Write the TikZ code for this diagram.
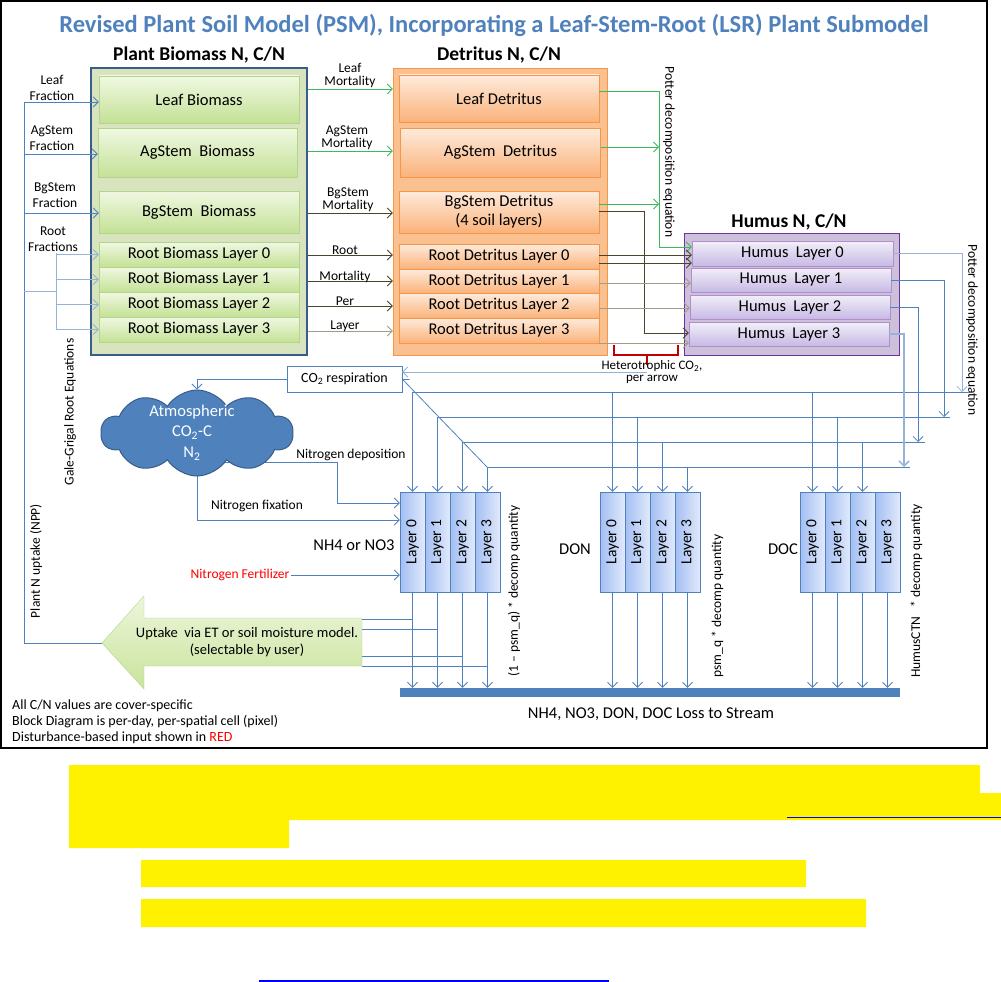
\documentclass[tikz,border=0pt]{standalone}
\usepackage{fontspec}
\setmainfont{Carlito}
\usetikzlibrary{arrows.meta,shapes.symbols,backgrounds}

\definecolor{psmblue}{HTML}{4F81BD}
\definecolor{psmlight}{HTML}{95B3D7}
\definecolor{psmnavy}{HTML}{385D8A}
\definecolor{plantfill}{HTML}{D7E4BD}
\definecolor{planttop}{HTML}{F0F8E2}
\definecolor{plantbot}{HTML}{C4E196}
\definecolor{plantedge}{HTML}{B3D58A}
\definecolor{detfill}{HTML}{FAC090}
\definecolor{dettop}{HTML}{FEEBDC}
\definecolor{detbot}{HTML}{FAB27A}
\definecolor{detedge}{HTML}{F79646}
\definecolor{humfill}{HTML}{CCC0DA}
\definecolor{humtop}{HTML}{F2EFF9}
\definecolor{humbot}{HTML}{C7B9E4}
\definecolor{humedge}{HTML}{7030A0}
\definecolor{mortgreen}{HTML}{3DB85F}
\definecolor{mortdark}{HTML}{4A452A}
\definecolor{mortgray}{HTML}{A09C88}
\definecolor{bracered}{HTML}{C00000}
\definecolor{laydark}{HTML}{A3BEF2}
\definecolor{laylight}{HTML}{E1E9FB}
\definecolor{arrowtop}{HTML}{EDF6DC}
\definecolor{arrowbot}{HTML}{C9E39B}

\begin{document}
\begin{tikzpicture}[x=1pt,y=-1pt,
    >={Straight Barb[length=5pt,width=10pt]},
    every node/.style={inner sep=1pt},
    small/.style={font=\fontsize{13.5}{16}\selectfont},
    notes/.style={font=\fontsize{14}{15}\selectfont,anchor=west},
    boxtext/.style={font=\fontsize{16.5}{19}\selectfont},
    heading/.style={font=\fontsize{19.5}{22}\selectfont\bfseries},
    plantbox/.style={boxtext,draw=plantedge,top color=planttop,bottom color=plantbot,minimum width=200pt},
    detbox/.style={boxtext,draw=detedge,top color=dettop,bottom color=detbot,minimum width=200pt},
    humbox/.style={boxtext,draw=humedge!55,top color=humtop,bottom color=humbot,minimum width=200pt,minimum height=24pt},
    laybox/.style={draw=psmblue,left color=laydark,right color=laylight,minimum width=25pt,minimum height=100pt,inner sep=0pt,font=\fontsize{15.5}{17}\selectfont},
    flow/.style={psmblue,line width=0.8pt},
    mort/.style={line width=0.8pt,->}]
  \useasboundingbox (0,0) rectangle (1001,982);
  \draw[line width=1.6pt] (1,1) rectangle (987,748);
  \node[font=\fontsize{24.5}{26}\selectfont\bfseries,text=psmblue] (ttl) at (494,25)
    {Revised Plant Soil Model (PSM), Incorporating a Leaf-Stem-Root (LSR) Plant Submodel};

  % plant biomass
  \node[heading] (pbt) at (199,55) {Plant Biomass N, C/N};
  \node[draw=psmnavy,line width=2.5pt,fill=plantfill,minimum width=216pt,minimum height=287pt] (pb) at (199,211.5) {};
  \node[plantbox,minimum height=47pt] (lfb) at (199,99.5) {Leaf Biomass};
  \node[plantbox,minimum height=49pt,minimum width=199pt] (agb) at (197.5,152.5) {AgStem\ \ Biomass};
  \node[plantbox,minimum height=42pt] (bgb) at (199,212) {BgStem\ \ Biomass};
  \node[plantbox,minimum height=25pt] (rb0) at (199,254.5) {Root Biomass Layer 0};
  \node[plantbox,minimum height=25pt] (rb1) at (199,279.5) {Root Biomass Layer 1};
  \node[plantbox,minimum height=25pt] (rb2) at (199,304.5) {Root Biomass Layer 2};
  \node[plantbox,minimum height=25pt] (rb3) at (199,329.5) {Root Biomass Layer 3};

  % detritus
  \node[heading] (dtt) at (499,55) {Detritus N, C/N};
  \node[draw=detedge,fill=detfill,minimum width=214pt,minimum height=287pt] (dt) at (500,211.5) {};
  \node[detbox,minimum height=47pt] (lfd) at (499,98.5) {Leaf Detritus};
  \node[detbox,minimum height=49pt] (agd) at (500.5,152.5) {AgStem\ \ Detritus};
  \node[detbox,minimum height=42pt,align=center] (bgd) at (499,212) {BgStem Detritus\\(4 soil layers)};
  \node[detbox,minimum height=25pt] (rd0) at (499,256.5) {Root Detritus Layer 0};
  \node[detbox,minimum height=24pt] (rd1) at (499,281) {Root Detritus Layer 1};
  \node[detbox,minimum height=25pt] (rd2) at (499,305.5) {Root Detritus Layer 2};
  \node[detbox,minimum height=25pt] (rd3) at (499,330.5) {Root Detritus Layer 3};

  % humus
  \node[heading] (hmt) at (789,222) {Humus N, C/N};
  \node[draw=humedge,fill=humfill,minimum width=215pt,minimum height=122pt] (hm) at (791.5,294) {};
  \node[humbox,minimum width=201pt,minimum height=25pt] (hl0) at (792.5,253.5) {Humus\ \ Layer 0};
  \node[humbox] (hl1) at (791,280) {Humus\ \ Layer 1};
  \node[humbox] (hl2) at (790,307) {Humus\ \ Layer 2};
  \node[humbox] (hl3) at (789,334) {Humus\ \ Layer 3};

  % fractions into plant boxes
  \coordinate (upt) at (102,643);
  \coordinate (ups) at (362,642);
  \coordinate (rt) at (56,291);
  \draw[flow,->] (upt) -- (24,643) -- (24,102) -- (lfb.west |- 0,102);
  \draw[flow,->] (24,154) -- (agb.west |- 0,154);
  \draw[flow,->] (24,213) -- (bgb.west |- 0,213);
  \draw[flow,psmlight] (24,291) -- (rt);
  \draw[flow,psmlight] (56,253) -- (56,329);
  \foreach \i in {0,...,3}
    \draw[flow,psmlight,->] (rb\i.west -| rt) -- (rb\i.west);
  \node[small,align=center] (lff) at (52,88) {Leaf\\Fraction};
  \node[small,align=center] (agf) at (52,138.5) {AgStem\\Fraction};
  \node[small,align=center] (bgf) at (55,195.5) {BgStem\\Fraction};
  \node[small,align=center] (rtf) at (53,239) {Root\\Fractions};
  \node[small,rotate=90] (ggr) at (70,412) {Gale-Grigal Root Equations};
  \node[small,rotate=90] (npp) at (36,561) {Plant N uptake (NPP)};

  % mortality
  \draw[mort,mortgreen] (pb.east |- 0,89) -- (dt.west |- 0,89);
  \draw[mort,mortgreen] (pb.east |- 0,151) -- (dt.west |- 0,151);
  \draw[mort,mortdark] (pb.east |- 0,213) -- (dt.west |- 0,213);
  \draw[mort,mortdark] (pb.east |- 0,255) -- (dt.west |- 0,255);
  \draw[mort,mortdark] (pb.east |- 0,281) -- (dt.west |- 0,281);
  \draw[mort,mortdark] (pb.east |- 0,306) -- (dt.west |- 0,306);
  \draw[mort,mortgray] (pb.east |- 0,331) -- (dt.west |- 0,331);
  \node[small,align=center,font=\fontsize{13.5}{13}\selectfont] (lfm) at (350,75.5) {Leaf\\Mortality};
  \node[small,align=center,font=\fontsize{13.5}{13}\selectfont] (agm) at (347,138) {AgStem\\Mortality};
  \node[small,align=center,font=\fontsize{13.5}{13}\selectfont] (bgm) at (348,199.5) {BgStem\\Mortality};
  \node[small,anchor=base] (rm1) at (345,254) {Root};
  \node[small,anchor=base] (rm2) at (345,280) {Mortality};
  \node[small,anchor=base] (rm3) at (345,305) {Per};
  \node[small,anchor=base] (rm4) at (345,329) {Layer};

  % detritus to humus
  \draw[mort,mortgreen] (lfd.east |- 0,91) -- (659,91) -- (659,247) -- (hl0.west |- 0,247);
  \draw[mort,mortgreen] (agd.east |- 0,147) -- (659,147);
  \draw[mort,mortgreen] (bgd.east |- 0,204) -- (659,204);
  \draw[mort,mortdark] (bgd.east |- 0,211) -- (644,211) -- (644,333) -- (hl3.west |- 0,333);
  \draw[mort,mortdark] (rd0.east |- 0,255) -- (hl0.west |- 0,255);
  \draw[mort,mortdark] (rd0.east |- 0,263) -- (hl0.west |- 0,263);
  \draw[mort,mortgray] (rd1.east |- 0,283) -- (hl1.west |- 0,283);
  \draw[mort,mortgray] (rd2.east |- 0,308) -- (hl2.west |- 0,308);
  \draw[mort,mortgray] (rd3.east |- 0,343) -- (hl3.west |- 0,343);
  \node[small,rotate=-90] (pde1) at (669,152) {Potter decomposition equation};

  % heterotrophic respiration
  \draw[bracered,line width=1.5pt] (614,345) -- (614,355) -- (678,355) -- (678,345) (647,355) -- (647,365);
  \node[small,align=center,font=\fontsize{13}{12}\selectfont] (het) at (652,372) {Heterotrophic CO\textsubscript{2},\\per arrow};
  \node[draw=psmblue,fill=white,font=\fontsize{14}{16}\selectfont,minimum width=115pt,minimum height=26pt] (co2) at (344.5,379) {CO\textsubscript{2} respiration};
  \draw[flow,psmlight,->] (647,372) -- (co2.east |- 0,372);

  % atmosphere
  \node[cloud,cloud puffs=10,cloud puff arc=115,aspect=2.2,draw=psmnavy,fill=psmblue,line width=1pt,minimum width=192pt,minimum height=86pt] (atm) at (197,433) {};
  \node[text=white,align=center,font=\fontsize{16.5}{20.5}\selectfont] (atmx) at (192,432.5) {Atmospheric\\CO\textsubscript{2}-C\\N\textsubscript{2}};
  \draw[flow,->] (co2.west) -| (atm.north);

  % soil solution layers
  \node[laybox] (n0) at (412.5,542) {\rotatebox{90}{Layer 0}};
  \node[laybox] (n1) at (437.5,542) {\rotatebox{90}{Layer 1}};
  \node[laybox] (n2) at (462.5,542) {\rotatebox{90}{Layer 2}};
  \node[laybox] (n3) at (487.5,542) {\rotatebox{90}{Layer 3}};
  \node[laybox] (d0) at (612.5,542) {\rotatebox{90}{Layer 0}};
  \node[laybox] (d1) at (637.5,542) {\rotatebox{90}{Layer 1}};
  \node[laybox] (d2) at (662.5,542) {\rotatebox{90}{Layer 2}};
  \node[laybox] (d3) at (687.5,542) {\rotatebox{90}{Layer 3}};
  \node[laybox] (c0) at (812.5,542) {\rotatebox{90}{Layer 0}};
  \node[laybox] (c1) at (837.5,542) {\rotatebox{90}{Layer 1}};
  \node[laybox] (c2) at (862.5,542) {\rotatebox{90}{Layer 2}};
  \node[laybox] (c3) at (887.5,542) {\rotatebox{90}{Layer 3}};
  \node[font=\fontsize{16.5}{18}\selectfont] (nh4) at (354,545) {NH4 or NO3};
  \node[font=\fontsize{16.5}{18}\selectfont] (don) at (575,549) {DON};
  \node[font=\fontsize{16.5}{18}\selectfont] (doc) at (783,549) {DOC};

  % nitrogen inputs
  \begin{scope}[on background layer]
    \draw[flow,->] (atm.center |- 0,462) -- (337,462) -- (337,503) -- (n0.west |- 0,503);
    \draw[flow,->] (atm.center) |- (n0.west |- 0,520);
  \end{scope}
  \node[small] (ndep) at (351,455) {Nitrogen deposition};
  \node[small] (nfix) at (257,506) {Nitrogen fixation};
  \node[small,text=red] (fert) at (240,575) {Nitrogen Fertilizer};
  \draw[flow,->] (fert.east) -- (n0.west |- fert.east);

  % decomposition products into layers
  \coordinate (dg) at (487,467);
  \draw[flow,->] (dg) -- (co2.east);
  \foreach \k/\y/\e in {0/392/968,1/417/950,2/442/925,3/467/910}{
    \draw[flow] (n\k |- 0,\y) -- (\e,\y);
    \draw[flow,->] (n\k |- 0,\y) -- (n\k.north);
    \draw[flow,->] (d\k |- 0,\y) -- (d\k.north);
  }
  \foreach \k/\y in {0/392,1/417,2/442}
    \draw[flow,->] (c\k |- 0,\y) -- (c\k.north);
  \draw[flow,psmlight,->] (hl0.east |- 0,253) -| (962,392);
  \draw[flow,->] (hl1.east) -| (944,417);
  \draw[flow,->] (hl2.east) -| (918,442);
  \draw[flow,psmlight,line width=1.5pt,->] (hl3.east) -| (904,467);
  \node[small,rotate=-90] (pde2) at (972,330) {Potter decomposition equation};

  % uptake arrow
  \shade[top color=arrowtop,bottom color=arrowbot,draw=plantedge] (upt) -- (144,596) -- (144,618) -- (362,618)
    -- (362,666) -- (144,666) -- (144,689) -- cycle;
  \node[align=center,font=\fontsize{14.5}{17}\selectfont] (upx) at (247,642.5) {Uptake\ \ via ET or soil moisture model.\\(selectable by user)};
  \draw[flow] (n0 |- 0,619) -- (ups |- 0,619);
  \draw[flow] (n1 |- 0,629) -- (ups |- 0,629);
  \draw[flow] (n2 |- 0,656) -- (ups |- 0,656);
  \draw[flow] (n3 |- 0,666) -- (ups |- 0,666);

  % loss to stream
  \node[fill=psmblue,minimum width=500pt,minimum height=9pt,inner sep=0pt] (loss) at (650.25,692.5) {};
  \foreach \c in {n,d,c}
    \foreach \k in {0,...,3}
      \draw[flow,->] (\c\k.south) -- (\c\k |- loss.north);
  \node[font=\fontsize{16.5}{18}\selectfont] (lst) at (651,714) {NH4, NO3, DON, DOC Loss to Stream};
  \node[small,rotate=90] (q1) at (514,591) {(1 -- psm\_q) * decomp quantity};
  \node[small,rotate=90] (q2) at (717.5,606) {psm\_q * decomp quantity};
  \node[small,rotate=90] (q3) at (916.5,591) {HumusCTN\ \ \ * decomp quantity};

  % notes
  \node[notes] (nt1) at (11,706) {All C/N values are cover-specific};
  \node[notes] (nt2) at (11,722) {Block Diagram is per-day, per-spatial cell (pixel)};
  \node[notes] (nt3) at (11,738) {Disturbance-based input shown in \textcolor{red}{RED}};

  % highlighted caption below
  \fill[yellow] (69,765) rectangle (980,820) (980,793) rectangle (1001,820)
    (69,820) rectangle (289,848) (141,860) rectangle (806,887) (141,899) rectangle (866,927);
  \draw[blue,line width=1pt] (787,817) -- (1001,817);
  \draw[blue,line width=2pt] (259,981) -- (609,981);
\end{tikzpicture}
\end{document}
